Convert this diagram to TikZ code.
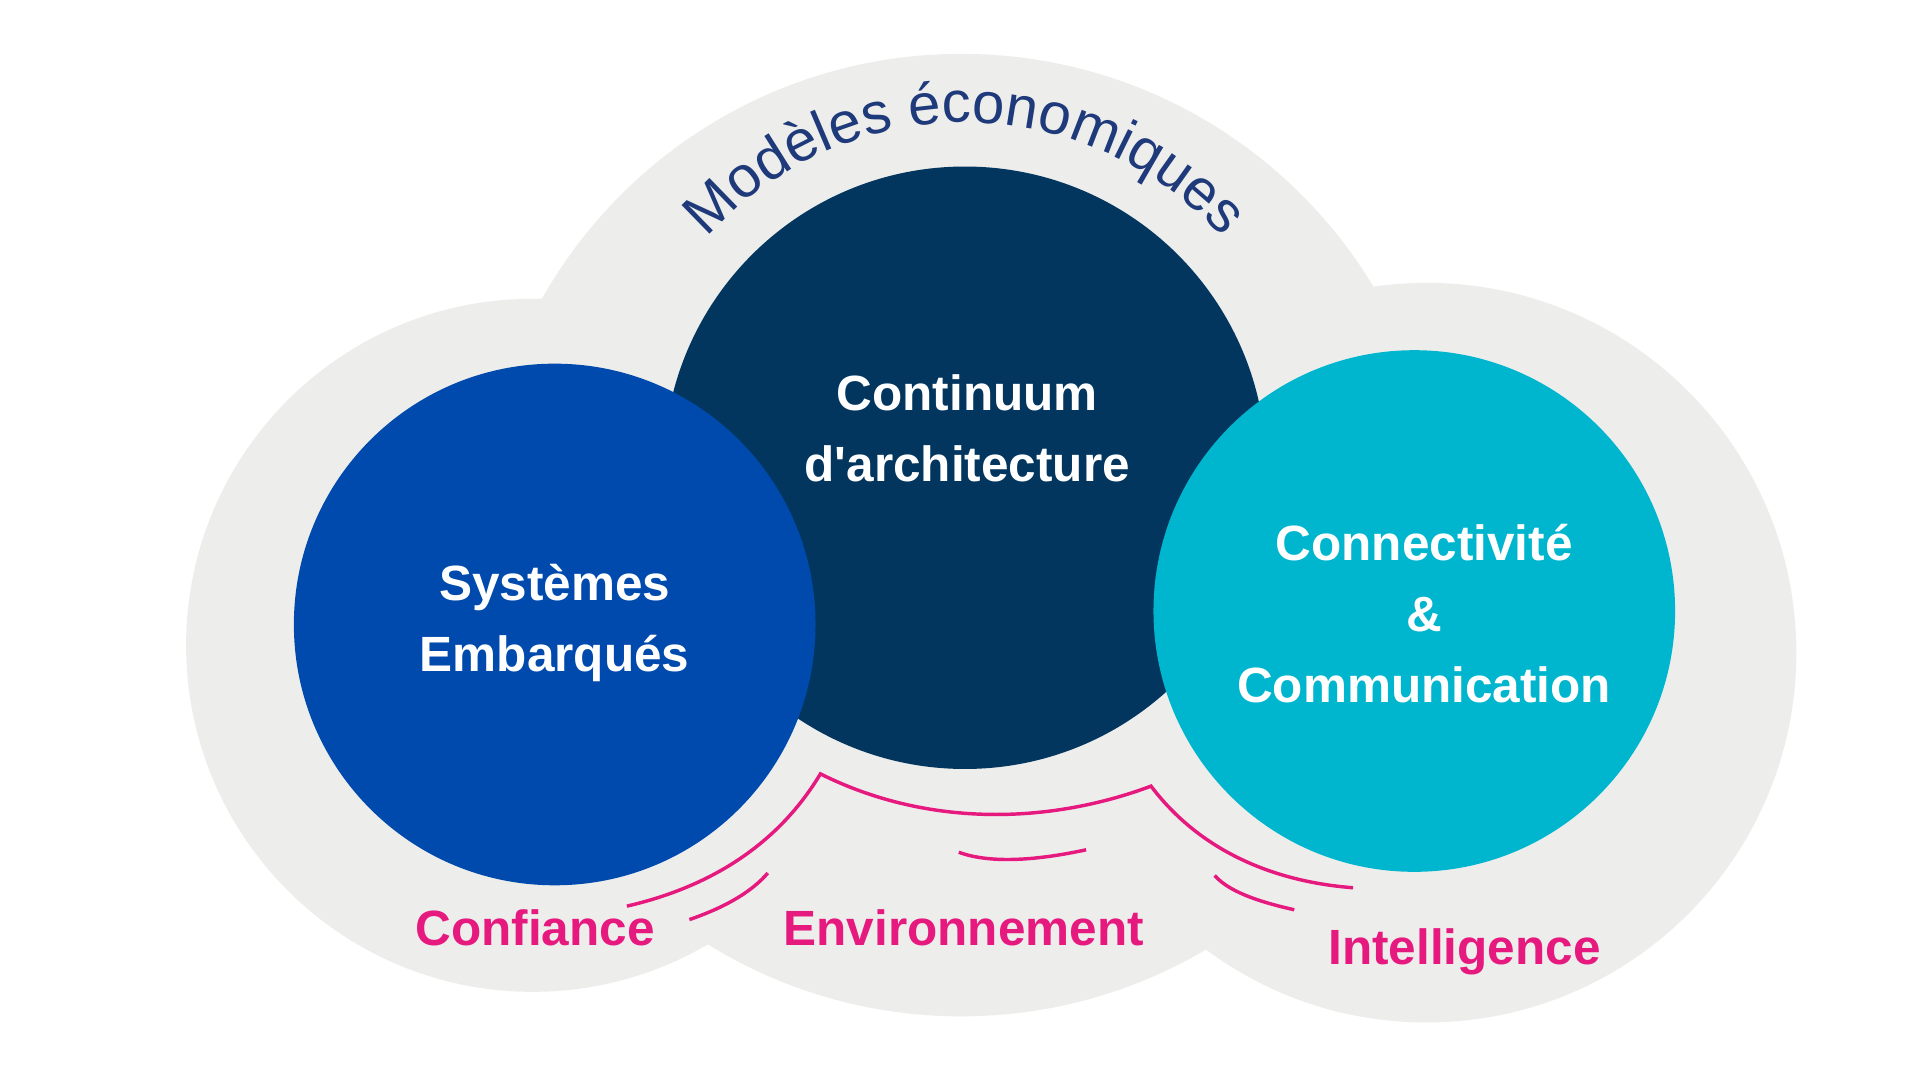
\documentclass[tikz,border=0pt]{standalone}
\usepackage{fontspec}
\setmainfont{Liberation Sans}[Ligatures=TeXOff]
\usetikzlibrary{decorations.text}
\definecolor{cloud}{HTML}{EDEDEC}
\definecolor{navy}{HTML}{02365F}
\definecolor{royal}{HTML}{004AAD}
\definecolor{cyanc}{HTML}{00B5CE}
\definecolor{mag}{HTML}{E6197F}
\definecolor{arctext}{HTML}{1F3A7A}
\begin{document}
\begin{tikzpicture}[x=0.1mm,y=0.1mm,
  ctext/.style={text=white,font=\fontsize{11.5}{14.5}\selectfont\bfseries,align=center},
  lab/.style={text=mag,font=\fontsize{11.5}{14}\selectfont\bfseries},
  mline/.style={draw=mag,line width=0.8pt}]
\useasboundingbox (0,0) rectangle (1568,882);
\fill[white] (0,0) rectangle (1568,882);
% cloud
\fill[cloud] (435,355) circle (283);
\fill[cloud] (785,445) circle (393);
\fill[cloud] (1165,349) circle (302);
% circles
\fill[navy] (788,500) circle (246);
\fill[royal] (453,372) circle (213);
\fill[cyanc] (1155,383) circle (213);
\node[ctext] (cont) at (790,532) {Continuum\\[2pt]d'architecture};
\node[ctext] (sys) at (453,373) {Systèmes\\[2pt]Embarqués};
\node[ctext] (conn) at (1163,381) {Connectivité\\[2pt]\&\\[2pt]Communication};
% arc text
\path[decorate,decoration={text along path,text align=center,
  text={|\color{arctext}\fontsize{13.5}{15}\selectfont|Modèles économiques}}]
  (788,500) ++(142:282) arc[start angle=142,end angle=38,radius=282];
% magenta lines
\coordinate (a1) at (512,142);
\coordinate (a2) at (670,250);
\coordinate (a3) at (940,240);
\coordinate (a4) at (1105,157);
\draw[mline] (a1) .. controls (590,160) and (640,200) .. (a2)
  .. controls (760,205) and (860,210) .. (a3)
  .. controls (980,187) and (1040,162) .. (a4);
\coordinate (b1) at (563,131); \coordinate (b2) at (627,169);
\draw[mline] (b1) .. controls (595,142) and (615,155) .. (b2);
\coordinate (c1) at (783,186); \coordinate (c2) at (887,188);
\draw[mline] (c1) .. controls (810,176) and (850,180) .. (c2);
\coordinate (d1) at (992,167); \coordinate (d2) at (1057,139);
\draw[mline] (d1) .. controls (1005,152) and (1035,144) .. (d2);
\node[lab] (conf) at (437,124) {Confiance};
\node[lab] (env) at (787,124) {Environnement};
\node[lab] (intel) at (1196,105) {Intelligence};
\end{tikzpicture}
\end{document}
